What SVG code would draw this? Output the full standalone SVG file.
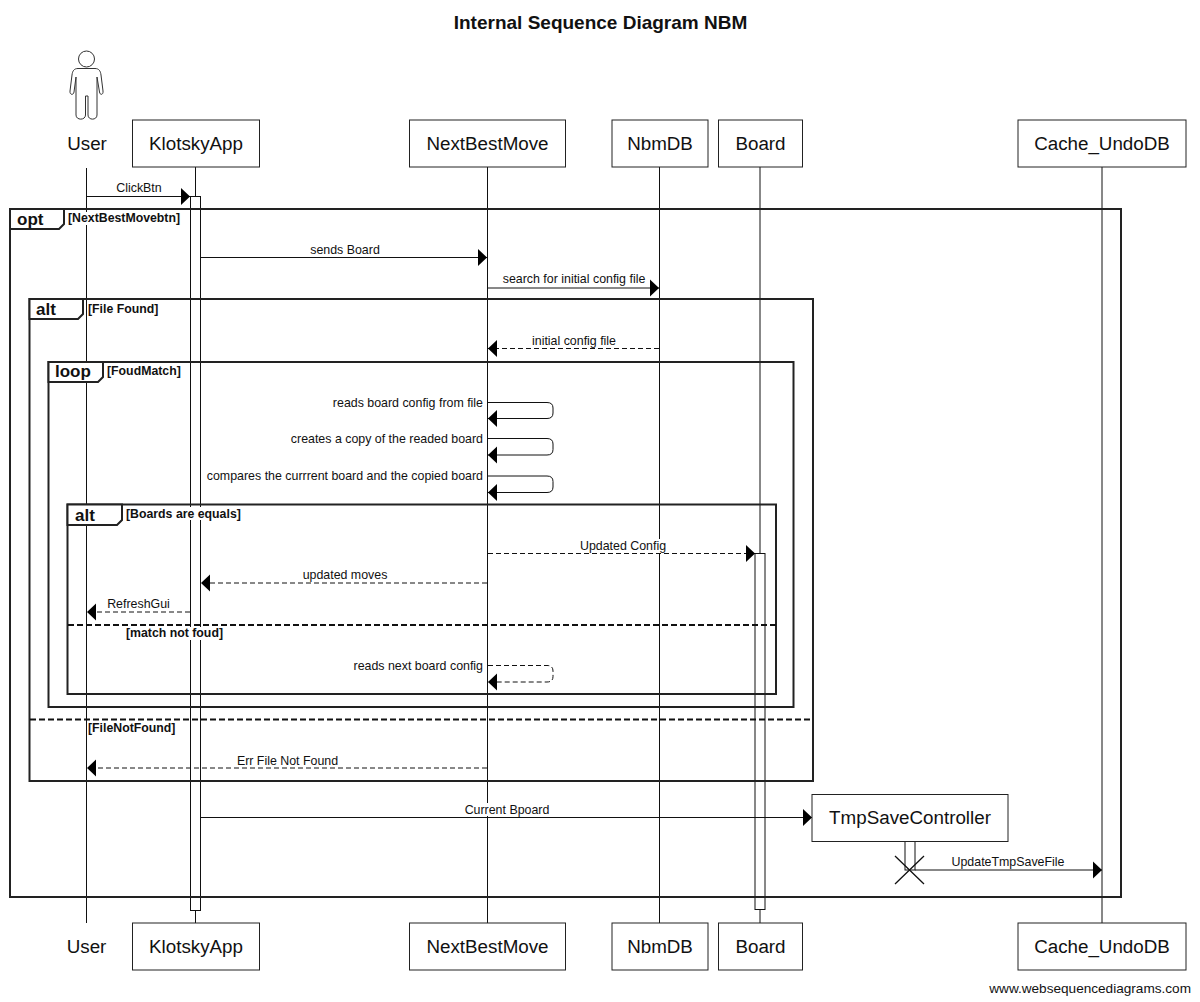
<svg xmlns="http://www.w3.org/2000/svg" width="1200" height="1002" viewBox="0 0 1200 1002">
<style>
text{font-family:"Liberation Sans",Arial,sans-serif;fill:#111}
.ll{stroke:#111;stroke-width:1;fill:none}
.box{fill:#fff;stroke:#222;stroke-width:1}
.act{fill:#fff;stroke:#111;stroke-width:1}
.name{font-size:18.800px;text-anchor:middle}
.msg{font-size:12.400px;text-anchor:middle}
.r{text-anchor:end}
.m{stroke:#111;stroke-width:1;fill:none}
.d{stroke-dasharray:5 3}
.fr{fill:none;stroke:#222;stroke-width:2}
.div{stroke:#111;stroke-width:2;stroke-dasharray:6 3;fill:none}
.tag{fill:#fff;stroke:#222;stroke-width:2}
.tt{font-size:17px;font-weight:bold}
.g{font-size:12.300px;font-weight:bold}
.bg{fill:#fff}
</style>
<defs>
<marker id="a" markerUnits="userSpaceOnUse" markerWidth="11" markerHeight="19" refX="9" refY="9" orient="auto"><path d="M0 0.500L9 9L0 17.500Z" fill="#000"/></marker>
</defs>
<rect width="1200" height="1002" fill="#fff"/>
<text x="600.500" y="29" text-anchor="middle" font-size="19" font-weight="bold">Internal Sequence Diagram NBM</text>

<g id="lifelines">
<path class="ll" d="M86.500 168V923M195.500 167V923M487.500 167V923M659.500 167V923M760 167V923M1102 167V923"/>
</g>

<g id="activations">
<rect class="act" x="190.500" y="196.500" width="10" height="714"/>
<rect class="act" x="755" y="553.500" width="10" height="356"/>
<rect class="act" x="905" y="841" width="10" height="29"/>
</g>

<g id="frames">
<rect class="fr" x="10" y="209" width="1111" height="688"/>
<rect class="fr" x="29.500" y="299" width="783.500" height="482"/>
<rect class="fr" x="48.500" y="362" width="745" height="345"/>
<rect class="fr" x="67.500" y="504.500" width="708.500" height="189.500"/>
<path class="div" d="M68 625H776M30 719.500H813"/>
</g>

<g id="connectors">
<path class="m" marker-end="url(#a)" d="M86.500 196.500H190"/>
<path class="m" marker-end="url(#a)" d="M201 257.500H487"/>
<path class="m" marker-end="url(#a)" d="M488 288H659"/>
<path class="m d" marker-end="url(#a)" d="M659 348.500H488"/>
<path class="m" marker-end="url(#a)" d="M488 402.500H547Q553 402.500 553 408V413Q553 418.500 547 418.500H488"/>
<path class="m" marker-end="url(#a)" d="M488 438.500H547Q553 438.500 553 444V449.500Q553 455 547 455H488"/>
<path class="m" marker-end="url(#a)" d="M488 476H547Q553 476 553 481.500V487Q553 492.500 547 492.500H488"/>
<path class="m d" marker-end="url(#a)" d="M488 553.500H755"/>
<path class="m d" marker-end="url(#a)" d="M487 583H201"/>
<path class="m d" marker-end="url(#a)" d="M190 612H87"/>
<path class="m d" marker-end="url(#a)" d="M488 665.500H547Q553 665.500 553 671V676.500Q553 682 547 682H488"/>
<path class="m d" marker-end="url(#a)" d="M487 768H87"/>
<path class="m" marker-end="url(#a)" d="M201 817.500H812"/>
<path class="m" marker-end="url(#a)" d="M915 870H1102"/>
<path stroke="#111" stroke-width="1.300" fill="none" d="M895 856L924 884M924 856L895 884"/>
</g>

<g id="labels">
<rect class="bg" x="113" y="182" width="52" height="13"/><text class="msg" x="139" y="192">ClickBtn</text>
<rect class="bg" x="308" y="244" width="74" height="13"/><text class="msg" x="345" y="254">sends Board</text>
<rect class="bg" x="500" y="273" width="148" height="14"/><text class="msg" x="574" y="283">search for initial config file</text>
<rect class="bg" x="530" y="335" width="89" height="13"/><text class="msg" x="574" y="345">initial config file</text>
<text class="msg r" x="483" y="407">reads board config from file</text>
<text class="msg r" x="483" y="443">creates a copy of the readed board</text>
<text class="msg r" x="483" y="480">compares the currrent board and the copied board</text>
<rect class="bg" x="578" y="539" width="90" height="14"/><text class="msg" x="623" y="550">Updated Config</text>
<rect class="bg" x="302" y="569" width="86" height="13"/><text class="msg" x="345" y="579">updated moves</text>
<rect class="bg" x="107" y="598" width="63" height="13"/><text class="msg" x="138.500" y="608">RefreshGui</text>
<text class="msg r" x="483" y="670">reads next board config</text>
<rect class="bg" x="236" y="754" width="104" height="13"/><text class="msg" x="287.500" y="765">Err File Not Found</text>
<rect class="bg" x="464" y="803" width="86" height="13"/><text class="msg" x="507" y="814">Current Bpoard</text>
<rect class="bg" x="951" y="856" width="114" height="13"/><text class="msg" x="1008" y="866">UpdateTmpSaveFile</text>
</g>

<g id="frame-tags">
<path class="tag" d="M10 209H64V224L59 229H10Z"/><text class="tt" x="17" y="225">opt</text>
<rect class="bg" x="67" y="212" width="113" height="13"/><text class="g" x="68" y="222">[NextBestMovebtn]</text>
<path class="tag" d="M29.500 299H83V314L78 319H29.500Z"/><text class="tt" x="36" y="315">alt</text>
<rect class="bg" x="87" y="302" width="73" height="13"/><text class="g" x="88" y="313">[File Found]</text>
<path class="tag" d="M48.500 362H103V377L98 382H48.500Z"/><text class="tt" x="55" y="377">loop</text>
<rect class="bg" x="106" y="365" width="75" height="13"/><text class="g" x="107" y="375">[FoudMatch]</text>
<path class="tag" d="M67.500 504.500H122V520L117 525H67.500Z"/><text class="tt" x="75" y="521">alt</text>
<rect class="bg" x="125" y="507" width="117" height="13"/><text class="g" x="126" y="518">[Boards are equals]</text>
<rect class="bg" x="125" y="627" width="99" height="13"/><text class="g" x="126" y="637">[match not foud]</text>
<rect class="bg" x="87" y="721" width="90" height="13"/><text class="g" x="88" y="732">[FileNotFound]</text>
</g>

<g id="User">
<circle cx="86.500" cy="59" r="8" fill="#fff" stroke="#333" stroke-width="1"/>
<path fill="#fff" stroke="#333" stroke-width="1" d="M78 68.500H95C99 68.500 100.500 71 101 75L103 91C103.500 95 100 95.500 99.500 92L97 77V115C97 120.500 88 120.500 88 115V96H85.500V115C85.500 120.500 76 120.500 76 115V77L74 92C73.500 95.500 69.500 95 70 91L72 75C72.500 71 74 68.500 78 68.500Z"/>
<text class="name" x="87" y="150">User</text>
<text class="name" x="86.500" y="953">User</text>
</g>
<g id="KlotskyApp">
<rect class="box" x="132.500" y="120" width="127" height="47"/><text class="name" x="196" y="150">KlotskyApp</text>
<rect class="box" x="132.500" y="923" width="127" height="47"/><text class="name" x="196" y="953">KlotskyApp</text>
</g>
<g id="NextBestMove">
<rect class="box" x="409.500" y="120" width="156" height="47"/><text class="name" x="487.500" y="150">NextBestMove</text>
<rect class="box" x="409.500" y="923" width="156" height="47"/><text class="name" x="487.500" y="953">NextBestMove</text>
</g>
<g id="NbmDB">
<rect class="box" x="612" y="120" width="96" height="47"/><text class="name" x="660" y="150">NbmDB</text>
<rect class="box" x="612" y="923" width="96" height="47"/><text class="name" x="660" y="953">NbmDB</text>
</g>
<g id="Board">
<rect class="box" x="718.500" y="120" width="84" height="47"/><text class="name" x="760.500" y="150">Board</text>
<rect class="box" x="718.500" y="923" width="84" height="47"/><text class="name" x="760.500" y="953">Board</text>
</g>
<g id="Cache_UndoDB">
<rect class="box" x="1018" y="120" width="168" height="47"/><text class="name" x="1102" y="150">Cache_UndoDB</text>
<rect class="box" x="1018" y="923" width="168" height="47"/><text class="name" x="1102" y="953">Cache_UndoDB</text>
</g>
<g id="TmpSaveController">
<rect class="box" x="812" y="794.500" width="196" height="47"/><text class="name" x="910" y="824">TmpSaveController</text>
</g>
<text x="1191" y="993" text-anchor="end" font-size="13.600">www.websequencediagrams.com</text>
</svg>
